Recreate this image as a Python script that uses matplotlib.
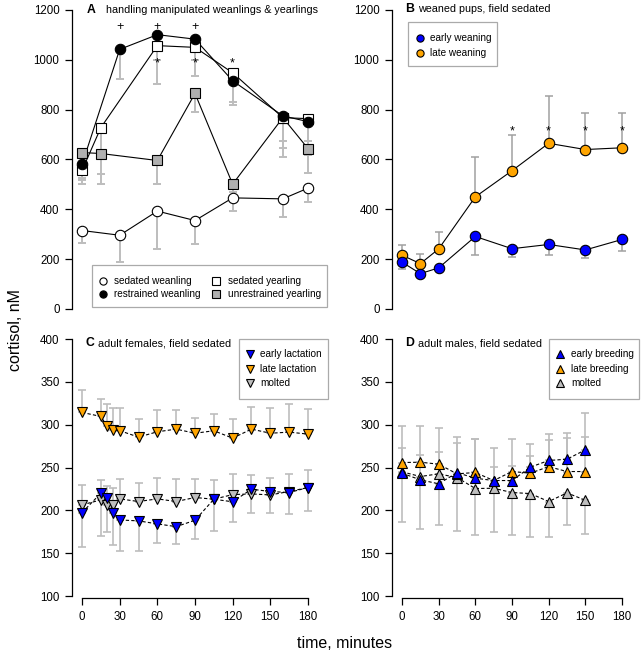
import numpy as np
import matplotlib
matplotlib.use('Agg')
import matplotlib.pyplot as plt
from matplotlib.patches import Rectangle

plt.rcParams['font.family'] = ['Liberation Sans', 'DejaVu Sans']

# ---- panel A: handling manipulated weanlings & yearlings ----
sw_t = [0, 30, 60, 90, 120, 160, 180]
sw = [315, 296, 393, 355, 446, 442, 485]
sw_lo = [264, 190, 239, 260, 393, 371, 430]

rw_t = [0, 30, 60, 90, 120, 160, 180]
rw = [580, 1042, 1101, 1083, 916, 775, 752]
rw_lo = [516, 922, 1000, 1000, 820, 648, 620]

sy_t = [0, 15, 60, 90, 120, 160, 180]
sy = [556, 728, 1057, 1050, 948, 768, 764]
sy_lo = [524, 500, 905, 935, 832, 676, 676]

uy_t = [0, 15, 60, 90, 120, 160, 180]
uy = [628, 624, 596, 865, 501, 768, 644]
uy_lo = [500, 540, 500, 791, 470, 612, 544]

plus_t = [30, 60, 90]
star_a_t = [60, 90, 120]

# ---- panel B: weaned pups ----
b_t = [0, 15, 30, 60, 90, 120, 150, 180]
early_w = [188, 142, 165, 291, 242, 259, 237, 279]
early_w_lo = [161, 137, 160, 217, 209, 217, 205, 234]
late_w = [216, 182, 241, 450, 555, 665, 640, 647]
late_w_hi = [257, 221, 309, 611, 699, 856, 788, 785]
star_b_t = [90, 120, 150, 180]

# ---- panel C: adult females ----
c_t = [0, 15, 20, 25, 30, 45, 60, 75, 90, 105, 120, 135, 150, 165, 180]
early_lac = [197.4, 220, 215, 197.4, 188.8, 187.7, 184.2, 181, 188.4, 213, 210, 224.7, 222, 220.8, 226.6]
early_lac_lo = [157, 170, 175, 160, 153, 153, 161.6, 160.8, 166.6, 176, 186, 197.4, 197.4, 196, 199]
late_lac = [314.3, 309.6, 298, 294, 293, 285.5, 291.7, 294.8, 290, 292.9, 284.3, 294.8, 290, 291.3, 289]
late_lac_hi = [340.8, 330.3, 324.4, 319.4, 319.4, 306.5, 317, 317, 307.3, 312.7, 306.9, 320.5, 320, 324.4, 317.8]
molt_c = [206.4, 212.2, 206.4, 206.4, 213.4, 210.3, 213.4, 210.3, 215, 213, 218.4, 219.2, 218, 222, 226.6]
molt_c_hi = [229.4, 235, 228, 226, 236.7, 231.7, 237.5, 236.7, 237, 235.6, 242.6, 241, 237.5, 242.2, 246.9]

# ---- panel D: adult males ----
d_t = [0, 15, 30, 45, 60, 75, 90, 105, 120, 135, 150]
early_br = [243.4, 235.6, 231, 244, 237.5, 234.8, 234.8, 250.4, 258.2, 259.7, 270.6]
early_br_hi = [298, 265, 268, 286, 283, 251, 251.6, 264, 282, 284.7, 313.5]
late_br = [255.8, 256.2, 253.9, 242.6, 244.2, 234.8, 245.3, 243.4, 251, 245.3, 245.3]
late_br_hi = [272.6, 298, 295.6, 279, 283, 272.6, 282.7, 278, 288.6, 289.8, 285.9]
molt_d = [245, 239.5, 242.6, 238.3, 225.5, 225.8, 220.8, 219.6, 210.3, 220.4, 211.8]
molt_d_lo = [186.9, 178.7, 183.4, 176.4, 170.9, 174.8, 170.9, 169.4, 168.6, 182.6, 172]

BLUE = '#0000FF'
ORANGE = '#FFA500'
GRAY = '#BEBEBE'
DKGRAY = '#B0B0B0'
W, H = 643, 659

fig = plt.figure(figsize=(W / 100, H / 100), dpi=100)


def fx(x):
    return x / W


def fy(y):
    return 1 - y / H


def add_ax(left, top, right, bottom):
    return fig.add_axes([fx(left), fy(bottom), (right - left) / W, (bottom - top) / H])


def style(ax, bottom_axis):
    for s in ['top', 'right']:
        ax.spines[s].set_visible(False)
    ax.tick_params(direction='out', length=5, width=0.9, labelsize=8.3, pad=4)
    ax.spines['left'].set_linewidth(0.9)
    if bottom_axis:
        ax.spines['bottom'].set_linewidth(0.9)
        ax.spines['bottom'].set_bounds(0, 180)
        ax.spines['left'].set_bounds(100, 400)
        ax.set_xticks(range(0, 181, 30))
    else:
        ax.spines['bottom'].set_visible(False)
        ax.set_xticks([])


def series(ax, t, y, lo, hi, ls, lw, marker, fc, ms, ecol, elw):
    y = np.array(y)
    lower = y - np.array(lo) if lo is not None else np.zeros_like(y)
    upper = np.array(hi) - y if hi is not None else np.zeros_like(y)
    ax.errorbar(t, y, yerr=[lower, upper], fmt='none', ecolor=ecol,
                elinewidth=elw, capsize=3, capthick=elw, zorder=1, clip_on=False)
    ax.plot(t, y, color='black', ls=ls, lw=lw, zorder=2, clip_on=False)
    ax.plot(t, y, ls='none', marker=marker, mfc=fc, mec='black', mew=0.8,
            ms=ms, zorder=3, clip_on=False)


def title(x_letter, x_text, y, letter, txt):
    fig.text(fx(x_letter), fy(y), letter, fontsize=8.8, fontweight='bold', va='center')
    fig.text(fx(x_text), fy(y), txt, fontsize=7.75, va='center')


def legend(box, entries):
    # box = (left, top, right, bottom) in px; entries = (marker, colour, label, mx, tx, y)
    x0, y0, x1, y1 = box
    fig.add_artist(Rectangle((fx(x0), fy(y1)), (x1 - x0) / W, (y1 - y0) / H,
                             transform=fig.transFigure, facecolor='white',
                             edgecolor='#AAAAAA', lw=0.9, zorder=5))
    for marker, colour, label, mx, tx, y in entries:
        fig.add_artist(plt.Line2D([fx(mx)], [fy(y)], transform=fig.transFigure, ls='none',
                                  marker=marker, mfc=colour, mec='black', mew=0.8,
                                  ms=5.2, zorder=6))
        fig.text(fx(tx), fy(y), label, fontsize=7.2, va='center', zorder=6)


# panel A
axA = add_ax(72, 10, 318, 309)
axA.set_xlim(-8, 188)
axA.set_ylim(0, 1200)
axA.set_yticks(range(0, 1201, 200))
style(axA, False)
ea = '#BDBDBD'
series(axA, sw_t, sw, sw_lo, None, '-', 0.8, 'o', 'white', 7.5, ea, 1.4)
series(axA, uy_t, uy, uy_lo, None, '-', 0.8, 's', DKGRAY, 7, ea, 1.4)
series(axA, sy_t, sy, sy_lo, None, '-', 0.8, 's', 'white', 7, ea, 1.4)
series(axA, rw_t, rw, rw_lo, None, '-', 0.8, 'o', 'black', 7.5, ea, 1.4)
for t in plus_t:
    axA.text(t, 1130, '+', ha='center', va='center', fontsize=9)
for t in star_a_t:
    axA.text(t, 985, '*', ha='center', va='center', fontsize=9)
title(87, 106, 10, 'A', 'handling manipulated weanlings & yearlings')
legend((92, 265, 327, 307), [
    ('o', 'white', 'sedated weanling', 103, 114, 280.5),
    ('o', 'black', 'restrained weanling', 103, 114, 293.5),
    ('s', 'white', 'sedated yearling', 216, 228, 280.5),
    ('s', DKGRAY, 'unrestrained yearling', 216, 228, 293.5),
])

# panel B
axB = add_ax(392, 10, 638, 309)
axB.set_xlim(-8.18, 193.1)
axB.set_ylim(0, 1200)
axB.set_yticks(range(0, 1201, 200))
style(axB, False)
series(axB, b_t, late_w, None, late_w_hi, '-', 0.8, 'o', ORANGE, 7.5, '#A0A0A0', 1.1)
series(axB, b_t, early_w, early_w_lo, None, '-', 0.8, 'o', BLUE, 7.5, '#A0A0A0', 1.1)
for t in star_b_t:
    axB.text(t, 712, '*', ha='center', va='center', fontsize=9)
title(405, 418, 9, 'B', 'weaned pups, field sedated')
legend((408, 22, 497, 66), [
    ('o', BLUE, 'early weaning', 420, 430, 37.7),
    ('o', ORANGE, 'late weaning', 420, 430, 52.7),
])

# panel C
axC = add_ax(72, 339, 318, 598)
axC.set_xlim(-8, 188)
axC.set_ylim(97.7, 400)
axC.set_yticks(range(100, 401, 50))
style(axC, True)
ec = '#BDBDBD'
series(axC, c_t, late_lac, None, late_lac_hi, (0, (3, 2)), 0.8, 'v', ORANGE, 7.5, ec, 1.2)
series(axC, c_t, molt_c, None, molt_c_hi, (0, (3, 2)), 0.8, 'v', GRAY, 7.5, ec, 1.2)
series(axC, c_t, early_lac, early_lac_lo, None, (0, (3, 2)), 0.8, 'v', BLUE, 7.5, ec, 1.2)
title(86, 98, 343, 'C', 'adult females, field sedated')
legend((239, 339, 328, 399), [
    ('v', BLUE, 'early lactation', 250, 260, 354),
    ('v', ORANGE, 'late lactation', 250, 260, 368.5),
    ('v', GRAY, 'molted', 250, 260, 383),
])

# panel D
axD = add_ax(392, 339, 638, 598)
axD.set_xlim(-8.18, 193.1)
axD.set_ylim(97.7, 400)
axD.set_yticks(range(100, 401, 50))
style(axD, True)
series(axD, d_t, molt_d, molt_d_lo, None, (0, (3, 2)), 0.8, '^', GRAY, 7.5, ec, 1.2)
series(axD, d_t, late_br, None, late_br_hi, (0, (3, 2)), 0.8, '^', ORANGE, 7.5, ec, 1.2)
series(axD, d_t, early_br, None, early_br_hi, (0, (3, 2)), 0.8, '^', BLUE, 7.5, ec, 1.2)
title(405, 418, 343, 'D', 'adult males, field sedated')
legend((549, 339, 639, 399), [
    ('^', BLUE, 'early breeding', 560, 571, 354),
    ('^', ORANGE, 'late breeding', 560, 571, 368.5),
    ('^', GRAY, 'molted', 560, 571, 383),
])

fig.text(fx(16), fy(330), 'cortisol, nM', rotation=90, fontsize=11.5, ha='center', va='center')
fig.text(fx(345), fy(644), 'time, minutes', fontsize=11.5, ha='center', va='center')

fig.savefig('out.png', dpi=100)
